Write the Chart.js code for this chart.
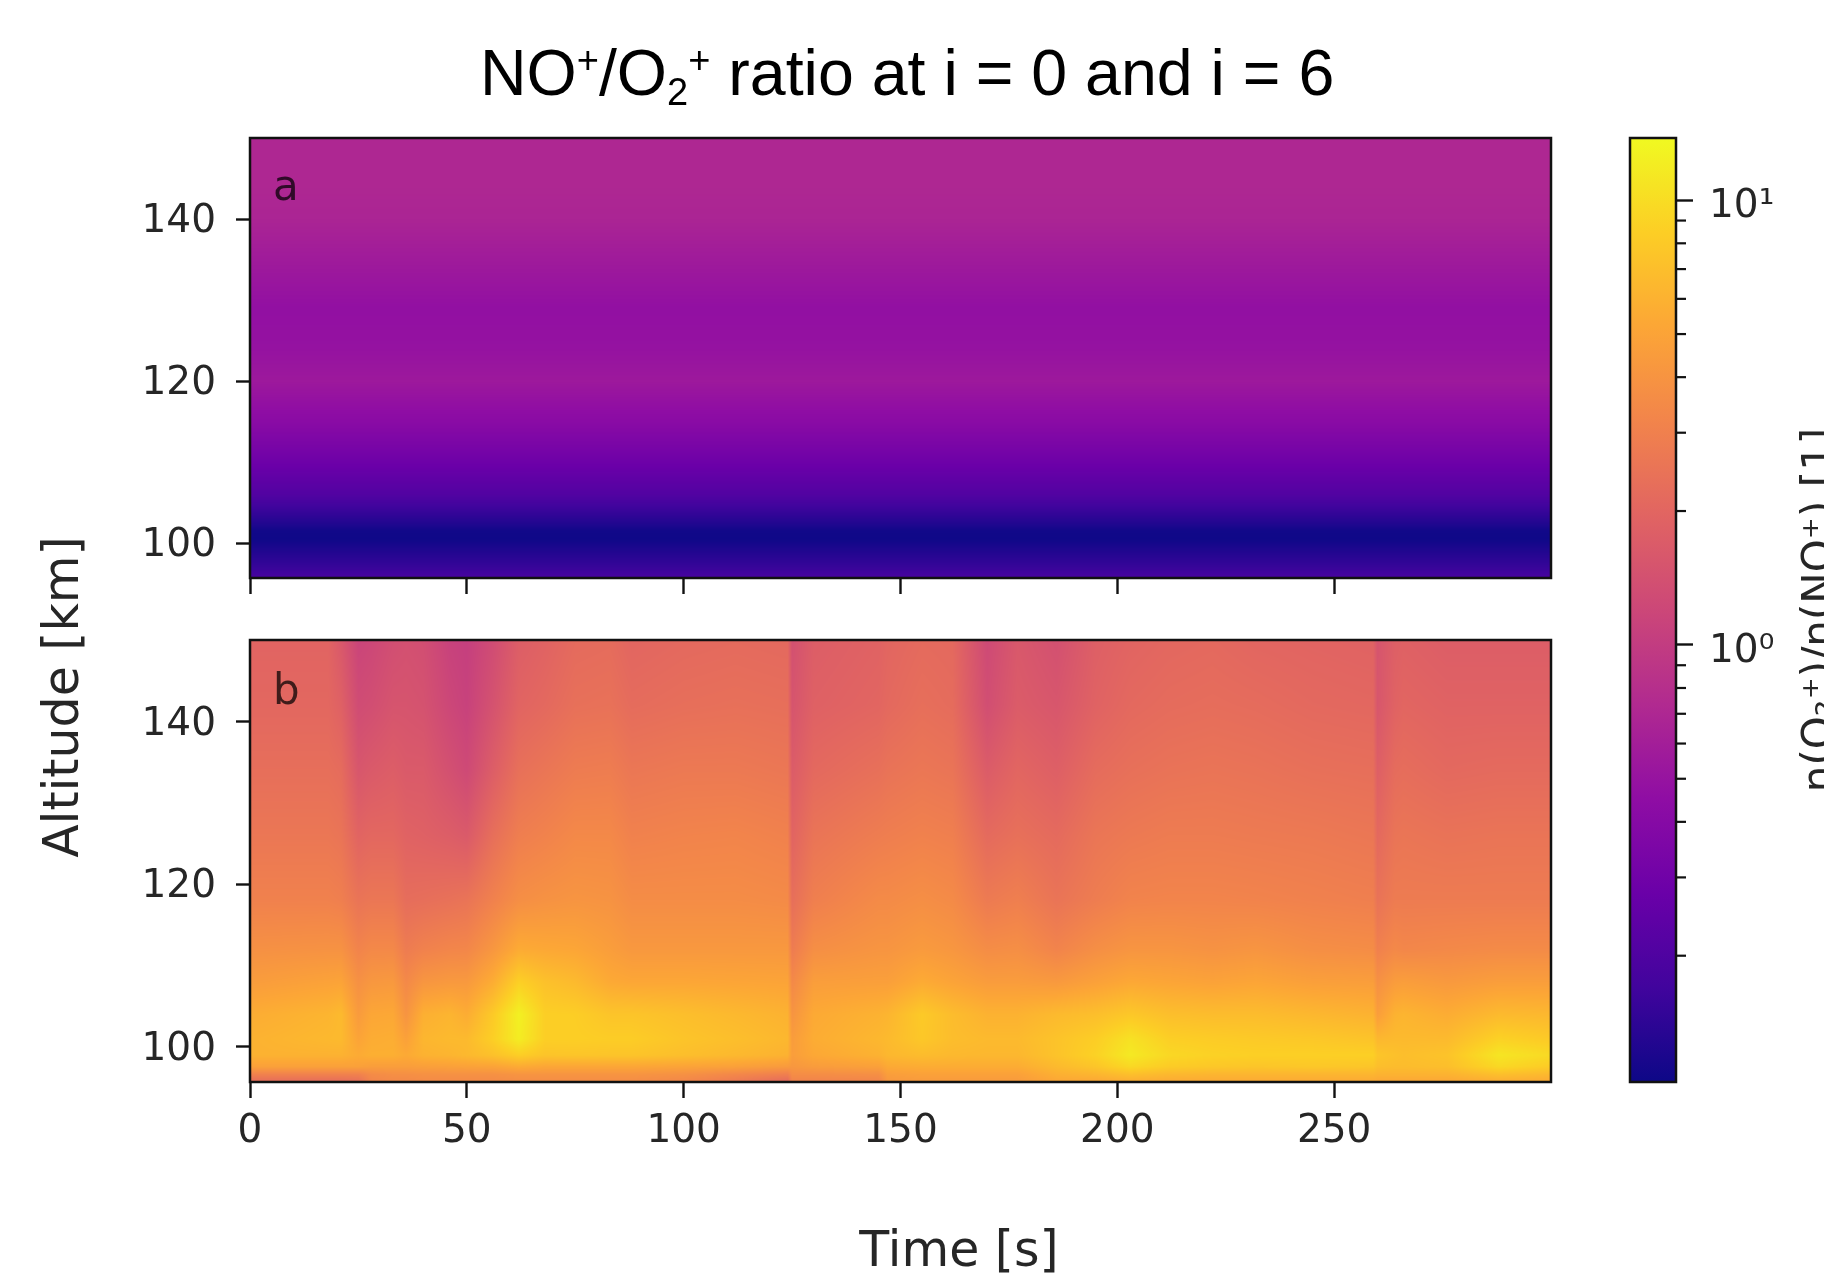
<!DOCTYPE html>
<html>
<head>
<meta charset="utf-8">
<style>
html,body{margin:0;padding:0;background:#fff;width:1824px;height:1276px;overflow:hidden}
canvas{position:absolute;left:0;top:0}
</style>
<script src="https://cdn.jsdelivr.net/npm/chart.js@4/dist/chart.umd.js"></script>
</head>
<body>
<canvas id="panelA" width="1824" height="1276"></canvas>
<canvas id="panelB" width="1824" height="1276"></canvas>
<canvas id="colorbar" width="1824" height="1276"></canvas>
<script>
// ---------- Data ----------
const timeTicks = [0, 50, 100, 150, 200, 250];
const altTicks = [100, 120, 140];
const cbMajor = [1, 10];
const cbMinor = [0.2, 0.3, 0.4, 0.5, 0.6, 0.7, 0.8, 0.9, 2, 3, 4, 5, 6, 7, 8, 9];
const cbRange = [0.104, 13.8];
const timeRange = [0, 300];
const altRange = [95.7, 150];

const plasmaStops = ['#0d0887','#41049d','#6a00a8','#8f0da4','#b12a90','#cc4778','#e16462','#f2844b','#fca636','#fcce25','#f0f921'];

// panel a: ratio by altitude (no change in time)
const altsA = [150, 144, 140, 134, 129, 124, 120, 115, 111, 106, 102.5, 101.5, 100.5, 99, 97, 95.7];
const ratioA = [0.70, 0.70, 0.67, 0.55, 0.47, 0.49, 0.55, 0.42, 0.313, 0.207, 0.127, 0.108, 0.106, 0.125, 0.155, 0.185];
const timesA = [0, 300];

// panel b: ratio by time column; each column lists altsB top to bottom
const altsB = [150, 142, 134, 126, 118, 112, 108, 104, 101, 99, 97.6, 96.6, 95.7];
const timesB = [0, 18, 21, 25, 28, 33, 36, 40, 46, 50, 56, 62, 68, 75, 83, 88, 100, 112, 124, 125, 130, 145, 147, 155, 162, 170, 177, 186, 195, 203, 212, 222, 232, 245, 259, 260, 264, 266, 276, 288, 300];
const ratioB = [
 [1.95,2.05,2.3,2.6,3.05,3.8,4.5,5.6,6,6,4.8,3,2.2],
 [1.95,2.05,2.3,2.6,3.05,3.9,4.9,6.2,6.5,6,4.8,3,2.2],
 [1.6,1.85,2.2,2.5,2.95,3.9,5,6.6,6.6,6,4.8,3,2.2],
 [1.15,1.3,1.55,1.95,2.5,3.15,3.8,4.4,5,5.5,4.8,3,2.3],
 [1.2,1.35,1.65,2.05,2.6,3.4,4.2,5.2,5.6,5.8,4.6,3.5,3.2],
 [1.35,1.5,1.75,2.05,2.6,3.4,4.3,5.3,5.7,5.8,4.6,3.7,3.4],
 [1.4,1.5,1.65,1.9,2.25,2.8,3.4,4,4.8,5.4,4.6,3.7,3.4],
 [1.35,1.45,1.65,1.85,2.3,3.05,4.1,5.8,6.3,6,4.7,3.8,3.5],
 [1.1,1.2,1.4,1.75,2.4,3.25,4.3,6.2,6.6,6.2,4.8,3.8,3.5],
 [1.05,1.1,1.25,1.65,2.5,3.3,4.3,5.6,6.6,6.5,4.9,3.8,3.5],
 [1.3,1.45,1.75,2.3,3.05,4.15,5.6,8,8.5,7.2,5,3.8,3.5],
 [1.75,1.95,2.35,2.9,3.7,5.5,8.6,12.5,12,8.5,5.5,4,3.6],
 [1.9,2.1,2.55,3.1,3.9,5.3,7.2,8.5,8.5,7.5,5.2,4,3.6],
 [2.15,2.35,2.8,3.4,4.05,5.15,6.6,8.4,8.5,7.6,5.2,4,3.6],
 [2.2,2.4,2.85,3.4,3.95,4.6,5.4,7.5,8.3,7.5,5.2,4,3.6],
 [2,2.2,2.6,3.05,3.6,4.25,5.2,7.5,8.3,7.5,5.2,4,3.6],
 [2.1,2.3,2.7,3.15,3.6,4.25,5.2,7,7.5,7,5,3.8,3.3],
 [2.15,2.35,2.7,3.2,3.6,4.25,5.1,6.5,7,6.5,4.8,3.3,2.7],
 [2.1,2.3,2.6,3.05,3.5,4.25,5,6,6.4,6,4.4,2.9,2.1],
 [1.4,1.5,1.7,1.95,2.3,2.8,3.4,4,4.5,4.6,4.2,3.6,3.1],
 [1.75,1.85,2.1,2.5,2.95,3.7,4.6,5.4,5.6,5.3,4.5,3.6,3.1],
 [1.9,2,2.35,2.85,3.5,4.05,4.7,6,6.4,6,4.8,3.7,3.2],
 [2,2.1,2.45,2.9,3.5,4.05,4.7,6.2,6.6,6.4,5.4,4.6,4.2],
 [2.15,2.3,2.6,3.05,3.7,4.4,5.5,8,7.8,6.8,5.6,4.8,4.4],
 [2.1,2.2,2.5,2.95,3.5,4.15,5,6.8,6.9,6.5,5.6,4.8,4.4],
 [1.25,1.35,1.7,2.15,2.75,3.6,4.5,6,6.6,6.4,5.6,4.8,4.4],
 [1.6,1.7,2,2.35,2.95,3.7,4.5,6,6.6,6.4,5.6,4.8,4.4],
 [1.4,1.55,1.8,2.15,2.5,3.15,4.3,6.6,7.4,7.4,6.6,5.8,5.2],
 [1.8,1.9,2.2,2.55,2.85,3.7,4.8,7,8.4,8.8,7.6,6.2,5.2],
 [1.95,2.1,2.35,2.7,3.15,4.05,5.3,7.8,10.5,11.5,9.5,7,5.6],
 [2.05,2.2,2.45,2.8,3.2,4.05,5.1,7,8.5,9.4,8.2,6.4,5.4],
 [2.1,2.25,2.5,2.8,3.2,3.9,4.9,6.8,8.2,8.8,7.8,6.2,5.4],
 [2,2.2,2.45,2.75,3.15,4.05,5.1,6.8,8,8.6,7.6,6.2,5.4],
 [1.95,2.1,2.35,2.7,3.05,3.7,4.7,6.4,7.8,8.6,7.8,6.2,5.4],
 [1.9,2.05,2.3,2.6,2.95,3.6,4.6,6,7.4,8.6,7.6,6.2,5.4],
 [1.5,1.55,1.8,2.1,2.45,3,3.8,4.6,6.4,7.6,7,6,5.2],
 [1.8,1.9,2.2,2.5,2.8,3.4,4.5,6,6.6,7.2,6.8,6,5.2],
 [1.85,2,2.25,2.55,2.8,3.3,4.6,6.2,6.6,7,6.8,6,5.2],
 [1.75,1.9,2.1,2.45,2.8,3.4,4.3,5.6,6.6,7.4,7,6,5.2],
 [1.75,1.9,2.15,2.5,2.8,3.5,4.6,6.6,8.8,11,9.5,7,5.6],
 [1.75,1.9,2.15,2.5,2.8,3.5,4.6,6.4,8,9.6,8.2,6.4,5.4]
];

// ---------- Text ----------
const xLabel = 'Time [s]';
const yLabel = 'Altitude [km]';
const cbLabel = 'n(O\u2082\u207A)/n(NO\u207A) [1]';
const cbTickText = {1: '10\u2070', 10: '10\u00B9'};
const titleParts = [['NO',0],['+',1],['/O',0],['2',-1],['+',1],[' ratio at i = 0 and i = 6',0]];

// ---------- Styling ----------
const FONT = '"DejaVu Sans"';
const INK = '#262626';
const TICK_FONT = {family: FONT, size: 39};

const rgb = plasmaStops.map(h => [1,3,5].map(i => parseInt(h.slice(i,i+2),16)));
function plasma(t){
  t = Math.min(1, Math.max(0, t)) * (rgb.length - 1);
  const i = Math.min(rgb.length - 2, Math.floor(t)), f = t - i;
  return [0,1,2].map(k => rgb[i][k] + (rgb[i+1][k] - rgb[i][k]) * f);
}
const logMin = Math.log10(cbRange[0]), logMax = Math.log10(cbRange[1]);

function bracket(arr, v){
  let i = 0;
  const up = arr[arr.length-1] > arr[0];
  while (i < arr.length - 2 && (up ? v > arr[i+1] : v < arr[i+1])) i++;
  const f = (v - arr[i]) / (arr[i+1] - arr[i]);
  return [i, Math.min(1, Math.max(0, f))];
}

// Gouraud-style shading of the cell values, located through the chart's own scales
const shading = {
  id: 'shading',
  beforeDatasetsDraw(chart){
    const cfg = chart.options.plugins.shading;
    const a = chart.chartArea, xs = chart.scales.x, ys = chart.scales.y;
    const x0 = Math.round(a.left), y0 = Math.round(a.top);
    const w = Math.round(a.right) - x0, h = Math.round(a.bottom) - y0;
    const img = chart.ctx.createImageData(w, h);
    const xb = [];
    for (let px = 0; px < w; px++) xb.push(bracket(cfg.times, xs.getValueForPixel(x0 + px + 0.5)));
    for (let py = 0; py < h; py++){
      const [j, g] = bracket(cfg.alts, ys.getValueForPixel(y0 + py + 0.5));
      for (let px = 0; px < w; px++){
        const [i, f] = xb[px];
        const c0 = cfg.columns[i], c1 = cfg.columns[i+1];
        const l0 = Math.log10(c0[j]) * (1-g) + Math.log10(c0[j+1]) * g;
        const l1 = Math.log10(c1[j]) * (1-g) + Math.log10(c1[j+1]) * g;
        const c = plasma((l0 * (1-f) + l1 * f - logMin) / (logMax - logMin));
        const o = (py * w + px) * 4;
        img.data[o] = c[0]; img.data[o+1] = c[1]; img.data[o+2] = c[2]; img.data[o+3] = 255;
      }
    }
    chart.ctx.putImageData(img, x0, y0);
  }
};

const frame = {
  id: 'frame',
  afterDraw(chart){
    const {ctx, chartArea: a} = chart;
    ctx.save();
    ctx.strokeStyle = '#111';
    ctx.lineWidth = 2.5;
    ctx.strokeRect(a.left, a.top, a.right - a.left, a.bottom - a.top);
    const note = chart.options.plugins.frame.letter;
    if (note){
      ctx.font = '42px ' + FONT;
      ctx.fillStyle = 'rgba(0,0,0,0.72)';
      ctx.textAlign = 'left';
      ctx.textBaseline = 'alphabetic';
      ctx.fillText(note, a.left + 23, a.top + chart.options.plugins.frame.letterDy);
    }
    ctx.restore();
  }
};

function heatChart(id, letter, letterDy, area, cols, alts, times, showX){
  const points = [];
  times.forEach((t, i) => alts.forEach((y, j) => points.push({x: t, y, v: cols[i][j]})));
  return new Chart(document.getElementById(id), {
    type: 'scatter',
    data: {datasets: [{data: points, pointRadius: 0, showLine: false}]},
    plugins: [shading, frame],
    options: {
      responsive: false, animation: false, events: [],
      layout: {padding: {left: 100, top: area.top, right: 273, bottom: 1276 - area.bottom - 90}},
      plugins: {
        legend: {display: false}, tooltip: {enabled: false}, title: {display: false},
        shading: {times, alts, columns: cols},
        frame: {letter, letterDy}
      },
      scales: {
        x: {
          type: 'linear', min: timeRange[0], max: timeRange[1],
          afterBuildTicks(s){ s.ticks = timeTicks.map(value => ({value})); },
          afterFit(s){ s.height = 90; },
          border: {display: false},
          grid: {drawOnChartArea: false, drawTicks: true, tickLength: 16, tickWidth: 2.4, tickColor: '#111'},
          ticks: {display: showX, autoSkip: false, maxRotation: 0, font: TICK_FONT, color: INK, padding: 10}
        },
        y: {
          type: 'linear', min: altRange[0], max: altRange[1],
          afterBuildTicks(s){ s.ticks = altTicks.map(value => ({value})); },
          afterFit(s){ s.width = 150; },
          border: {display: false},
          grid: {drawOnChartArea: false, drawTicks: true, tickLength: 14, tickWidth: 2.4, tickColor: '#111'},
          ticks: {autoSkip: false, font: TICK_FONT, color: INK, padding: 20, labelOffset: 3}
        }
      }
    }
  });
}

heatChart('panelA', 'a', 62, {top: 138, bottom: 578}, timesA.map(() => ratioA), altsA, timesA, false);
heatChart('panelB', 'b', 64, {top: 640, bottom: 1082}, ratioB, altsB, timesB, true);

// Figure-level text and colour-bar minor ticks
const figure = {
  id: 'figure',
  afterDraw(chart){
    const {ctx} = chart, ys = chart.scales.y, a = chart.chartArea;
    ctx.save();
    ctx.strokeStyle = '#111'; ctx.lineWidth = 2.2;
    cbMinor.forEach(v => {
      const p = ys.getPixelForValue(v);
      ctx.beginPath(); ctx.moveTo(a.right, p); ctx.lineTo(a.right + 10, p); ctx.stroke();
    });
    ctx.fillStyle = INK;
    ctx.textBaseline = 'alphabetic';

    ctx.font = '49px ' + FONT;
    ctx.textAlign = 'center';
    ctx.fillText(xLabel, 959, 1266);

    ctx.save();
    ctx.translate(78, 697); ctx.rotate(-Math.PI/2);
    ctx.fillText(yLabel, 0, 0);
    ctx.restore();

    ctx.save();
    ctx.translate(1832, 610); ctx.rotate(-Math.PI/2);
    ctx.font = '42px ' + FONT;
    ctx.fillText(cbLabel, 0, 0);
    ctx.restore();

    // title with raised and lowered parts
    ctx.fillStyle = '#000';
    ctx.textAlign = 'left';
    let x = 480;
    titleParts.forEach(([s, shift]) => {
      ctx.font = (shift ? 38 : 64.5) + 'px "Liberation Sans"';
      ctx.fillText(s, x, 95 + (shift > 0 ? -22 : shift < 0 ? 10 : 0));
      x += ctx.measureText(s).width;
    });
    ctx.restore();
  }
};

new Chart(document.getElementById('colorbar'), {
  type: 'bar',
  data: {
    labels: [''],
    datasets: [{
      data: [[cbRange[0], cbRange[1]]],
      barPercentage: 1, categoryPercentage: 1, borderWidth: 0,
      backgroundColor(ctx){
        const a = ctx.chart.chartArea;
        if (!a) return plasmaStops[5];
        const g = ctx.chart.ctx.createLinearGradient(0, a.bottom, 0, a.top);
        plasmaStops.forEach((c, i) => g.addColorStop(i / (plasmaStops.length - 1), c));
        return g;
      }
    }]
  },
  plugins: [frame, figure],
  options: {
    responsive: false, animation: false, events: [],
    layout: {padding: {left: 1630, top: 138, right: 0, bottom: 194}},
    plugins: {legend: {display: false}, tooltip: {enabled: false}, frame: {}},
    scales: {
      x: {type: 'category', display: false},
      y: {
        type: 'logarithmic', position: 'right', min: cbRange[0], max: cbRange[1],
        afterBuildTicks(s){ s.ticks = cbMajor.map(value => ({value, major: true})); },
        afterFit(s){ s.width = 148; },
        border: {display: false},
        grid: {drawOnChartArea: false, drawTicks: true, tickLength: 17, tickWidth: 2.4, tickColor: '#111'},
        ticks: {autoSkip: false, font: TICK_FONT, color: INK, padding: 16, labelOffset: 7, callback: v => cbTickText[v] || ''}
      }
    }
  }
});
</script>
</body>
</html>
